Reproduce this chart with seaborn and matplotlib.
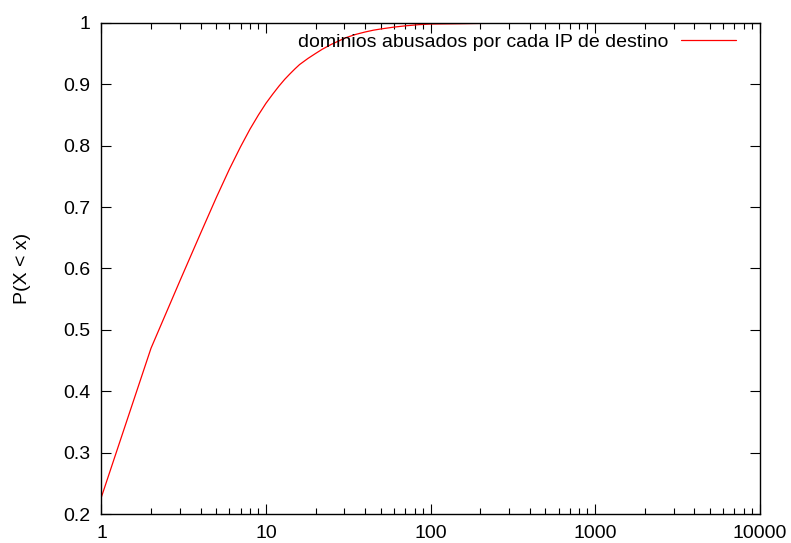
import matplotlib
matplotlib.use("Agg")
import matplotlib.pyplot as plt
import seaborn as sns
import pandas as pd
from matplotlib.ticker import LogLocator, FixedLocator, NullFormatter

sns.set_style("ticks", {'text.color': 'black', 'axes.labelcolor': 'black',
                        'xtick.color': 'black', 'ytick.color': 'black'})
plt.rcParams['font.family'] = ['Liberation Sans', 'DejaVu Sans']

# number of abused domains per destination IP (CDF)
dominios = [1, 2, 3, 4, 5, 6, 7, 8, 9, 10, 11, 12, 13, 14, 15, 16, 18, 20,
            22, 25, 28, 30, 35, 40, 45, 50, 60, 70, 85, 100, 150, 200, 300,
            500, 1000, 2000]
prob = [0.228, 0.47, 0.58, 0.657, 0.716, 0.762, 0.798, 0.827, 0.850, 0.869,
        0.884, 0.897, 0.908, 0.917, 0.925, 0.932, 0.942, 0.950,
        0.957, 0.965, 0.971, 0.975, 0.981, 0.985, 0.988, 0.990, 0.993,
        0.995, 0.997, 0.998, 0.9985, 0.999, 0.9992,
        0.9995, 0.9998, 1.0]
serie = "dominios abusados por cada IP de destino"

yticks = [0.2, 0.3, 0.4, 0.5, 0.6, 0.7, 0.8, 0.9, 1.0]
ylabels = ["0.2", "0.3", "0.4", "0.5", "0.6", "0.7", "0.8", "0.9", "1"]
xticks = [1, 10, 100, 1000, 10000]
xlabels = ["1", "10", "100", "1000", "10000"]

df = pd.DataFrame({'x': dominios, 'p': prob, 'serie': serie})

fig = plt.figure(figsize=(7.91, 5.43), dpi=100)
ax = fig.add_axes([0.1283, 0.0534, 0.8319, 0.9046])

sns.lineplot(data=df, x='x', y='p', hue='serie', palette=['red'],
             linewidth=0.9, ax=ax)

ax.set_xscale('log')
ax.set_xlim(1, 10000)
ax.set_ylim(0.2, 1.0)
ax.xaxis.set_major_locator(FixedLocator(xticks))
ax.set_xticklabels(xlabels)
ax.xaxis.set_minor_locator(LogLocator(base=10, subs=range(2, 10), numticks=20))
ax.xaxis.set_minor_formatter(NullFormatter())
ax.set_yticks(yticks)
ax.set_yticklabels(ylabels)

ax.set_xlabel(None)
ax.set_ylabel("P(X < x)", fontsize=14, labelpad=23, color='black')

ax.tick_params(which='both', direction='in', top=True, right=True,
               labelsize=14, color='black', labelcolor='black', width=0.8)
ax.tick_params(which='major', length=7, pad=8)
ax.tick_params(which='minor', length=4)
for s in ax.spines.values():
    s.set_linewidth(1.0)
    s.set_color('black')

leg = ax.legend(loc='upper right', bbox_to_anchor=(0.964, 0.978), frameon=False,
                markerfirst=False, fontsize=14, handlelength=2.8,
                handletextpad=0.65, borderpad=0, borderaxespad=0)
for t in leg.get_texts():
    t.set_color('black')

plt.savefig('out.png', dpi=100)
plt.close(fig)
